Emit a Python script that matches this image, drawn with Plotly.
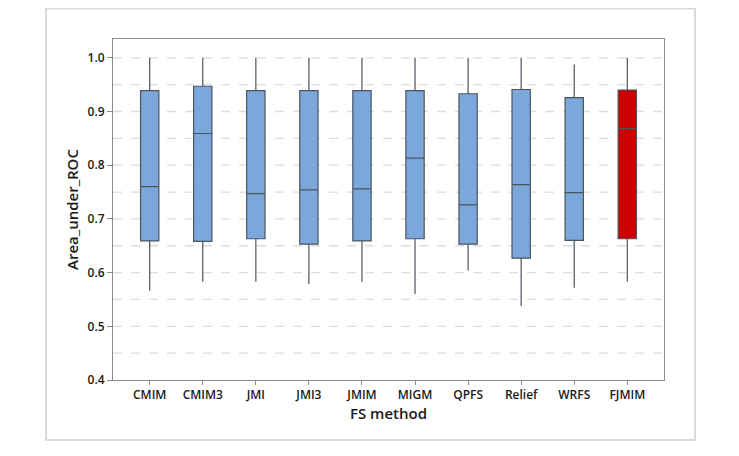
import plotly.graph_objects as go

categories = ["CMIM", "CMIM3", "JMI", "JMI3", "JMIM", "MIGM", "QPFS", "Relief", "WRFS", "FJMIM"]
lower_whisker = [0.566, 0.583, 0.583, 0.579, 0.583, 0.560, 0.604, 0.538, 0.572, 0.583]
q1_values = [0.659, 0.658, 0.663, 0.653, 0.659, 0.663, 0.653, 0.627, 0.660, 0.663]
median_values = [0.760, 0.859, 0.747, 0.754, 0.756, 0.813, 0.726, 0.764, 0.749, 0.868]
q3_values = [0.939, 0.947, 0.939, 0.939, 0.939, 0.939, 0.933, 0.941, 0.926, 0.940]
upper_whisker = [1.0, 1.0, 1.0, 1.0, 1.0, 1.0, 1.0, 1.0, 0.9875, 1.0]
y_ticks = [0.4, 0.5, 0.6, 0.7, 0.8, 0.9, 1.0]
y_tick_labels = ["0.4", "0.5", "0.6", "0.7", "0.8", "0.9", "1.0"]
highlight = "FJMIM"

fig = go.Figure()
for i, cat in enumerate(categories):
    is_hl = cat == highlight
    fig.add_trace(go.Box(
        x=[cat],
        q1=[q1_values[i]],
        median=[median_values[i]],
        q3=[q3_values[i]],
        lowerfence=[lower_whisker[i]],
        upperfence=[upper_whisker[i]],
        fillcolor="#CC0000" if is_hl else "#7BA7DA",
        line=dict(color="#4A5560", width=1.2),
        whiskerwidth=0,
        width=0.345,
        boxpoints=False,
        showlegend=False,
        hoverinfo="skip",
    ))

# dashed grid lines at every 0.05
grid_vals = [0.45, 0.5, 0.55, 0.6, 0.65, 0.7, 0.75, 0.8, 0.85, 0.9, 0.95, 1.0]
for g in grid_vals:
    fig.add_shape(type="line", xref="paper", yref="y", x0=0, x1=1, y0=g, y1=g,
                  line=dict(color="#DCDCDC", width=1.3, dash="dash"), layer="below")

# outer frame
fig.add_shape(type="rect", xref="paper", yref="paper",
              x0=-0.1216, x1=1.0563, y0=-0.176, y1=1.0895,
              line=dict(color="#DADADA", width=2), fillcolor="rgba(0,0,0,0)")

fig.update_layout(
    width=739, height=456,
    margin=dict(l=105, r=83, t=31, b=84),
    paper_bgcolor="white", plot_bgcolor="white",
    font=dict(family="Open Sans, Noto Sans, sans-serif", color="#1A1A1A", size=12),
    boxmode="overlay",
    xaxis=dict(
        categoryorder="array", categoryarray=categories,
        showline=True, linecolor="#8C8C8C", linewidth=1, mirror=True,
        ticks="outside", ticklen=4, tickcolor="#8C8C8C",
        showgrid=False, zeroline=False,
        tickfont=dict(size=12, color="#1A1A1A", weight=600),
        title=dict(text="FS method", font=dict(size=15, color="#1A1A1A", weight=600), standoff=4),
    ),
    yaxis=dict(
        range=[0.4, 1.035],
        tickvals=y_ticks, ticktext=y_tick_labels,
        showline=True, linecolor="#8C8C8C", linewidth=1, mirror=True,
        ticks="outside", ticklen=5, tickcolor="#8C8C8C",
        showgrid=False, zeroline=False,
        tickfont=dict(size=12, color="#1A1A1A", weight=600),
        title=dict(text="Area_under_ROC", font=dict(size=15, color="#1A1A1A", weight=600), standoff=5),
    ),
)

fig.write_html("out.html")
